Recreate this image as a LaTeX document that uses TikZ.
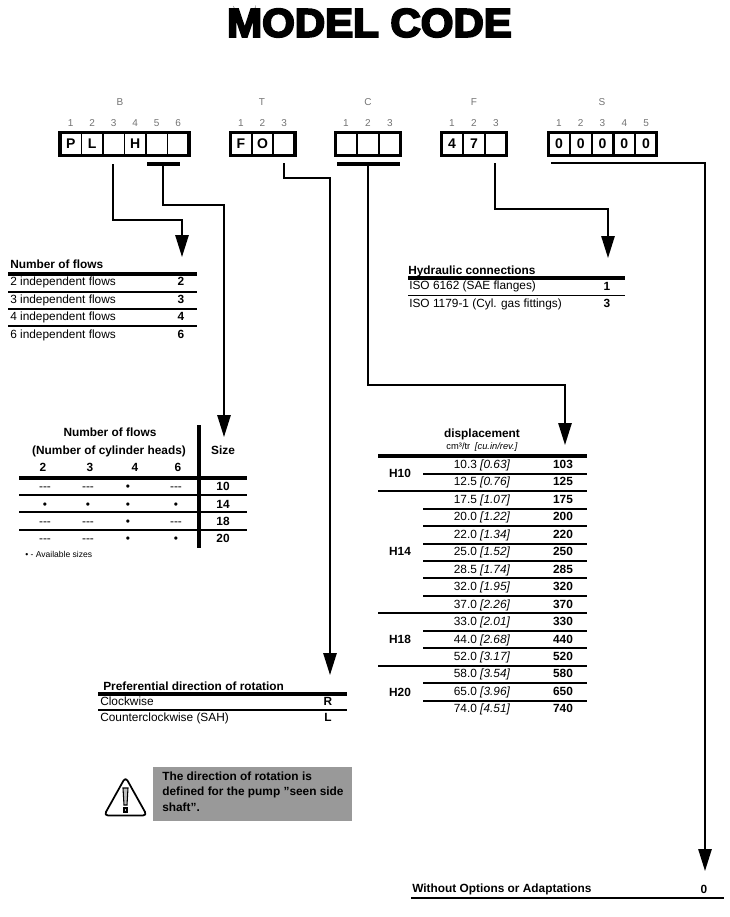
\documentclass[tikz,border=0pt]{standalone}
\usepackage{fontspec}
\setmainfont{Liberation Sans}
\usetikzlibrary{arrows.meta}
\definecolor{digitgray}{gray}{0.45}
\definecolor{notegray}{gray}{0.6}
\newcommand{\nosize}{-{}-{}-}
\tikzset{
  cell/.style={draw, line width=1.4pt, minimum width=16.1pt, minimum height=17.5pt, inner sep=0pt, outer sep=0pt, font=\fontsize{10.5}{11}\bfseries},
  frame/.style={line width=2.4pt},
  digit/.style={inner sep=0pt, text=digitgray, font=\fontsize{7.5}{8}\selectfont},
  txt/.style={inner sep=0pt, text height=6pt, text depth=0pt, font=\fontsize{8.9}{9}\selectfont},
  txtb/.style={txt, font=\fontsize{8.9}{9}\bfseries},
  barline/.style={line width=2.4pt},
  flow/.style={line width=1.3pt, -{Triangle[length=16.5pt,width=10pt]}},
  rulethick/.style={line width=2.4pt},
  rulethin/.style={line width=1pt}
}
\begin{document}
\begin{tikzpicture}[x=0.75pt,y=-0.75pt]
\useasboundingbox ( 0, 0 ) rectangle ( 730, 917 );
% заголовок
\node [inner sep=0pt] (title) at ( 369.5, 23 ) {\fontspec[FakeBold=5,FakeStretch=1.05]{Liberation Sans Bold}\fontsize{30}{31}\selectfont MODEL CODE};

% ячейки
\foreach \i/\t in {1/P,2/L,3/,4/H,5/,6/}
  \node [cell] (B\i) at ( {60+21.5*\i-10.75}, 144 ) {\t};
\foreach \i/\t in {1/F,2/O,3/}
  \node [cell] (T\i) at ( {230+21.67*\i-10.83}, 144 ) {\t};
\foreach \i/\t in {1/,2/,3/}
  \node [cell] (C\i) at ( {335+22*\i-11}, 144 ) {\t};
\foreach \i/\t in {1/4,2/7,3/}
  \node [cell] (F\i) at ( {441+22*\i-11}, 144 ) {\t};
\foreach \i/\t in {1/0,2/0,3/0,4/0,5/0}
  \node [cell] (S\i) at ( {548+21.8*\i-10.9}, 144 ) {\t};

\draw [frame] (B1.north west) rectangle (B6.south east);
\draw [frame] (T1.north west) rectangle (T3.south east);
\draw [frame] (C1.north west) rectangle (C3.south east);
\draw [frame] (F1.north west) rectangle (F3.south east);
\draw [frame] (S1.north west) rectangle (S5.south east);

% цифры и буквы
\coordinate (digitline) at ( 0, 123 );
\foreach \g/\n in {B/6,T/3,C/3,F/3,S/5}
  \foreach \i in {1,...,\n}
    \node [digit] (num\g\i) at (\g\i |- digitline) {\i};
\node [digit] (letB) at ( 120, 102 ) {B};
\node [digit] (letT) at ( 262, 102 ) {T};
\node [digit] (letC) at ( 368, 102 ) {C};
\node [digit] (letF) at ( 474, 102 ) {F};
\node [digit] (letS) at ( 602, 102 ) {S};

% планки
\coordinate (barBl) at ( 147, 164 );
\coordinate (barBr) at ( 180, 164 );
\coordinate (barCl) at ( 337, 164 );
\coordinate (barCr) at ( 400, 164 );
\draw [barline] (barBl) -- (barBr);
\draw [barline] (barCl) -- (barCr);

% стрелки
\coordinate (startflows) at ( 113, 164 );
\coordinate (tipflows) at ( 182, 257 );
\coordinate (startsize) at ( 163, 164 );
\coordinate (tipsize) at ( 224, 437 );
\coordinate (startrot) at ( 284, 163 );
\coordinate (tiprot) at ( 330, 675 );
\coordinate (startdisp) at ( 368, 164 );
\coordinate (tipdisp) at ( 565, 445 );
\coordinate (starthyd) at ( 495, 163 );
\coordinate (tiphyd) at ( 608, 258 );
\coordinate (startopt) at ( 551, 163 );
\coordinate (tipopt) at ( 705, 871 );
\draw [flow] (startflows) -- ++( 0, 56 ) -| (tipflows);
\draw [flow] (startsize) -- ++( 0, 41 ) -| (tipsize);
\draw [flow] (startrot) -- ++( 0, 15 ) -| (tiprot);
\draw [flow] (startdisp) -- ++( 0, 221 ) -| (tipdisp);
\draw [flow] (starthyd) -- ++( 0, 46 ) -| (tiphyd);
\draw [flow] (startopt) -| (tipopt);

% число потоков
\node [txtb, anchor=west] (flowstitle) at ( 10, 264 ) {Number of flows};
\draw [rulethick] ( 8, 274 ) -- ( 197, 274 );
\foreach \y/\v in {281.5/2,299/3,316/4,334/6}
  {
  \node [txt, anchor=west] (flowsrow\v) at ( 10, \y ) {\v{} independent flows};
  \node [txtb] (flowsval\v) at ( 181, \y ) {\v};
  }
\foreach \y in {292,309,326}
  \draw [rulethin] ( 8, \y ) -- ( 197, \y );

% типоразмеры
\node [txtb] (sizetitle) at ( 110, 432 ) {Number of flows};
\node [txtb] (sizesub) at ( 109, 450 ) {(Number of cylinder heads)};
\node [txtb] (sizehead) at ( 223, 450 ) {Size};
\foreach \x/\v in {43/2,90/3,135/4,178/6}
  \node [txtb] (sizecol\v) at ( \x, 467 ) {\v};
\draw [rulethick] ( 19, 478 ) -- ( 247, 478 );
\draw [rulethick] ( 199, 425 ) -- ( 199, 548 );
\foreach \y/\s/\a/\b/\c/\d in {
  486/10/\nosize/\nosize/\textbullet/\nosize,
  504/14/\textbullet/\textbullet/\textbullet/\textbullet,
  521/18/\nosize/\nosize/\textbullet/\nosize,
  538/20/\nosize/\nosize/\textbullet/\textbullet}
  {
  \node [txt] (mark\s a) at ( 45, \y ) {\a};
  \node [txt] (mark\s b) at ( 88, \y ) {\b};
  \node [txt] (mark\s c) at ( 128, \y ) {\c};
  \node [txt] (mark\s d) at ( 176, \y ) {\d};
  \node [txtb] (size\s) at ( 223, \y ) {\s};
  }
\foreach \y in {495,512,530}
  \draw [rulethin] ( 19, \y ) -- ( 247, \y );
\node [inner sep=0pt, anchor=west, font=\fontsize{6.4}{7}\selectfont] (legend) at ( 25, 554 ) {\textbullet{} - Available sizes};

% присоединения
\node [txtb, anchor=west] (hydtitle) at ( 408, 270 ) {Hydraulic connections};
\draw [rulethick] ( 408, 278 ) -- ( 625, 278 );
\node [txt, anchor=west] (hydrow1) at ( 409, 285 ) {ISO 6162 (SAE flanges)};
\node [txtb] (hydval1) at ( 607, 286 ) {1};
\draw [rulethin, line width=.7pt] ( 408, 295 ) -- ( 625, 295 );
\node [txt, anchor=west] (hydrow3) at ( 409, 303 ) {ISO 1179-1 (Cyl. gas fittings)};
\node [txtb] (hydval3) at ( 607, 303 ) {3};

% рабочий объём
\node [txtb] (disptitle) at ( 482, 433 ) {displacement};
\node [inner sep=0pt, font=\fontsize{7}{8}\selectfont] (dispsub) at ( 482, 447 ) {cm³/tr\enspace\textit{[cu.in/rev.]}};
\draw [rulethick] ( 378, 456 ) -- ( 587, 456 );
\foreach \i/\d/\e/\v in {0/10.3/0.63/103,1/12.5/0.76/125,2/17.5/1.07/175,3/20.0/1.22/200,4/22.0/1.34/220,5/25.0/1.52/250,6/28.5/1.74/285,7/32.0/1.95/320,8/37.0/2.26/370,9/33.0/2.01/330,10/44.0/2.68/440,11/52.0/3.17/520,12/58.0/3.54/580,13/65.0/3.96/650,14/74.0/4.51/740}
  {
  \node [txt] (disp\v) at ( 482, {464.5+17.45*\i} ) {\d{} \textit{[\e]}};
  \node [txtb] (code\v) at ( 563, {464.5+17.45*\i} ) {\v};
  }
\foreach \y in {474,509,526,544,561,578,596,631,648,683,701}
  \draw [rulethin] ( 423, \y ) -- ( 587, \y );
\foreach \y in {491,613,666}
  \draw [rulethin] ( 378, \y ) -- ( 587, \y );
\node [txtb] (H10) at ( 400, 473 ) {H10};
\node [txtb] (H14) at ( 400, 551 ) {H14};
\node [txtb] (H18) at ( 400, 639 ) {H18};
\node [txtb] (H20) at ( 400, 692 ) {H20};

% направление вращения
\node [txtb, anchor=west] (rottitle) at ( 103, 686 ) {Preferential direction of rotation};
\draw [rulethick] ( 98, 694 ) -- ( 347, 694 );
\node [txt, anchor=west] (rotrowR) at ( 100, 701 ) {Clockwise};
\node [txtb] (rotvalR) at ( 328, 701 ) {R};
\draw [rulethin] ( 98, 710 ) -- ( 347, 710 );
\node [txt, anchor=west] (rotrowL) at ( 100, 717 ) {Counterclockwise (SAH)};
\node [txtb] (rotvalL) at ( 328, 717 ) {L};

% примечание
\fill [notegray] ( 153, 767 ) rectangle ( 352, 821 );
\node [inner sep=0pt, anchor=north west, align=left, font=\fontsize{8.9}{11.6}\bfseries] (note) at ( 162, 771.5 ) {The direction of rotation is\\defined for the pump "seen side\\shaft".};

% треугольник
\draw [line width=1.3pt, line join=round, rounded corners=3pt] ( 125.5, 777 ) -- ( 147, 815.5 ) -- ( 104, 815.5 ) -- cycle;
\draw [fill=gray!50, line width=.8pt] ( 123, 788 ) -- ( 128, 788 ) -- ( 127, 805 ) -- ( 124, 805 ) -- cycle;
\draw [fill=gray!50, line width=.8pt] ( 124, 808 ) rectangle ( 127, 812 );

% без опций
\node [txtb, anchor=west] (opttitle) at ( 412, 888 ) {Without Options or Adaptations};
\node [txtb] (optval) at ( 704, 889 ) {0};
\draw [rulethin] ( 411, 898 ) -- ( 724, 898 );
\end{tikzpicture}
\end{document}
